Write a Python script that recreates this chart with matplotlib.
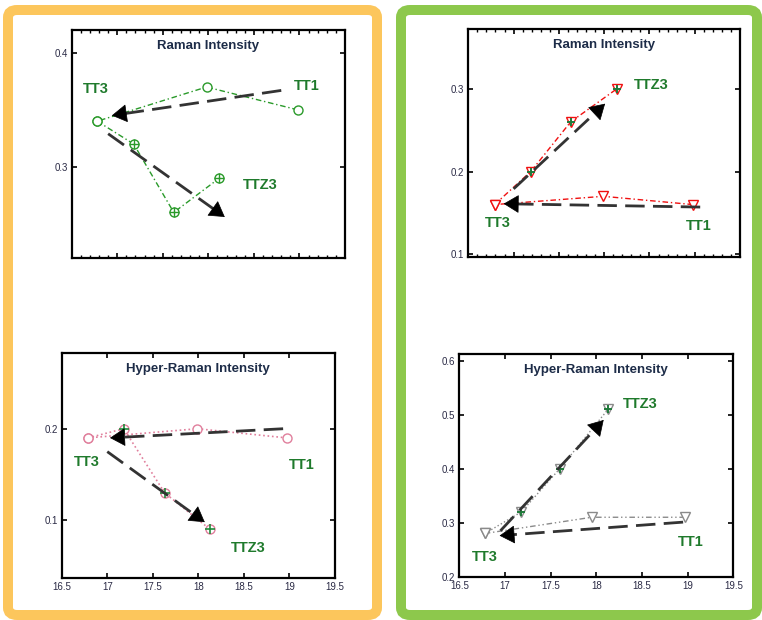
import matplotlib
matplotlib.use("Agg")
import matplotlib.pyplot as plt
from matplotlib.patches import FancyBboxPatch
from matplotlib.ticker import MultipleLocator

plt.rcParams['font.family'] = ['Liberation Sans', 'DejaVu Sans']

# ---- data: each panel has a TT1 -> TT3 branch and a TT3 -> TTZ3 branch ----
# Left column, Raman intensity
ram_l_ax = [18.98, 17.98, 16.78]
ram_l_ay = [0.35, 0.37, 0.34]
ram_l_bx = [16.78, 17.18, 17.62, 18.12]
ram_l_by = [0.34, 0.32, 0.26, 0.29]

# Left column, hyper-Raman intensity
hyp_l_ax = [18.97, 17.99, 16.79]
hyp_l_ay = [0.19, 0.20, 0.19]
hyp_l_bx = [16.79, 17.18, 17.63, 18.13]
hyp_l_by = [0.19, 0.20, 0.13, 0.09]

# Right column, Raman intensity
ram_r_ax = [18.98, 17.99, 16.79]
ram_r_ay = [0.16, 0.17, 0.16]
ram_r_bx = [16.79, 17.19, 17.63, 18.14]
ram_r_by = [0.16, 0.20, 0.26, 0.30]

# Right column, hyper-Raman intensity
hyp_r_ax = [18.97, 17.95, 16.78]
hyp_r_ay = [0.31, 0.31, 0.28]
hyp_r_bx = [16.78, 17.18, 17.60, 18.13]
hyp_r_by = [0.28, 0.32, 0.40, 0.51]

# trend arrows: (x_start, y_start, x_tip, y_tip)
ram_l_arrows = [(18.80, 0.367, 16.94, 0.345), (16.90, 0.329, 18.18, 0.256)]
hyp_l_arrows = [(18.93, 0.200, 17.03, 0.190), (17.00, 0.175, 18.07, 0.098)]
ram_r_arrows = [(19.06, 0.157, 16.89, 0.161), (17.00, 0.179, 18.01, 0.282)]
hyp_r_arrows = [(18.95, 0.301, 16.94, 0.276), (16.95, 0.285, 18.08, 0.490)]

# point labels: (text, x, y)
ram_l_labels = [("TT3", 16.77, 0.368), ("TT1", 19.08, 0.371), ("TTZ3", 18.57, 0.284)]
hyp_l_labels = [("TT3", 16.77, 0.164), ("TT1", 19.13, 0.160), ("TTZ3", 18.55, 0.070)]
ram_r_labels = [("TTZ3", 18.52, 0.304), ("TT3", 16.83, 0.138), ("TT1", 19.04, 0.134)]
hyp_r_labels = [("TTZ3", 18.48, 0.520), ("TT3", 16.78, 0.237), ("TT1", 19.03, 0.264)]

x_range = (16.5, 19.5)
x_ticks = [16.5, 17, 17.5, 18, 18.5, 19, 19.5]
x_ticklabels = ["16.5", "17", "17.5", "18", "18.5", "19", "19.5"]

LABEL_GREEN = "#1f7a2c"
TITLE_COLOR = "#1d2c48"
TICK_COLOR = "#2a2a45"

fig = plt.figure(figsize=(7.62, 6.20), dpi=100)
fig.patch.set_facecolor("white")

# coloured rounded frames around the two columns
frame_l = FancyBboxPatch((8 / 762, 1 - 615 / 620), 369 / 762, 605 / 620,
                         boxstyle="round,pad=0,rounding_size=0.012",
                         transform=fig.transFigure, fill=False,
                         edgecolor="#fcc65c", linewidth=7.2, zorder=0)
frame_r = FancyBboxPatch((401 / 762, 1 - 615 / 620), 356 / 762, 605 / 620,
                         boxstyle="round,pad=0,rounding_size=0.012",
                         transform=fig.transFigure, fill=False,
                         edgecolor="#8dc84c", linewidth=7.2, zorder=0)
fig.patches.extend([frame_l, frame_r])


def style_axes(ax, ylim, yticks, show_x, minor_x):
    ax.set_xlim(*x_range)
    ax.set_ylim(*ylim)
    ax.set_yticks(yticks)
    ax.set_yticklabels([f"{v:g}" for v in yticks])
    ax.set_xticks(x_ticks)
    if show_x:
        ax.set_xticklabels(x_ticklabels)
    else:
        ax.set_xticklabels([])
    if minor_x:
        ax.xaxis.set_minor_locator(MultipleLocator(0.1))
        ax.tick_params(axis="x", which="minor", direction="in", length=2.5,
                       width=1.0, top=True, bottom=True)
    ax.tick_params(which="major", direction="in", length=3.5, width=1.2,
                   top=True, right=True, labelsize=7, labelcolor=TICK_COLOR,
                   pad=3)
    for sp in ax.spines.values():
        sp.set_linewidth(1.6)


def draw_arrows(ax, arrows):
    for x0, y0, x1, y1 in arrows:
        # stop the shaft a little before the tip so the head sits cleanly
        fx = x1 - 0.06 * (x1 - x0)
        fy = y1 - 0.06 * (y1 - y0)
        ax.plot([x0, fx], [y0, fy], color="#333333", lw=2.0,
                dashes=(7, 3), zorder=4, solid_capstyle="butt")
        ax.annotate("", xy=(x1, y1), xytext=(x1 - 0.02 * (x1 - x0), y1 - 0.02 * (y1 - y0)),
                    arrowprops=dict(arrowstyle="-|>,head_length=0.5,head_width=0.3",
                                    color="black", lw=0.5,
                                    mutation_scale=20, shrinkA=0, shrinkB=0),
                    zorder=5)


def draw_labels(ax, labels):
    for txt, x, y in labels:
        ax.text(x, y, txt, color=LABEL_GREEN, fontsize=10.5, fontweight="bold",
                ha="center", va="center", zorder=6)


def title(ax, txt):
    ax.text(0.5, 0.955, txt, transform=ax.transAxes, ha="center", va="top",
            fontsize=9.5, fontweight="bold", color=TITLE_COLOR, zorder=6)


# ---- top left: Raman, green circles ----
ax1 = fig.add_axes([0.0941, 0.5839, 0.3587, 0.3677])
g = "#2a9a2a"
ax1.plot(ram_l_ax, ram_l_ay, color=g, lw=1.0, dashes=(4, 2, 1, 2),
         marker="o", ms=6.5, mfc="white", mec=g, mew=1.0, zorder=3)
ax1.plot(ram_l_bx, ram_l_by, color=g, lw=1.0, dashes=(4, 2, 1, 2),
         marker="o", ms=6.5, mfc="white", mec=g, mew=1.0, zorder=3)
ax1.plot(ram_l_bx[1:], ram_l_by[1:], ls="none", marker="+", ms=6.5, mec=g,
         mew=1.0, zorder=3)
draw_arrows(ax1, ram_l_arrows)
draw_labels(ax1, ram_l_labels)
title(ax1, "Raman Intensity")
style_axes(ax1, (0.22, 0.42), [0.3, 0.4], show_x=False, minor_x=True)

# ---- bottom left: hyper-Raman, pink circles ----
ax2 = fig.add_axes([0.0810, 0.0677, 0.3587, 0.3634])
p = "#e07f9c"
ax2.plot(hyp_l_ax, hyp_l_ay, color=p, lw=1.2, ls=":",
         marker="o", ms=6.5, mfc="white", mec=p, mew=1.0, zorder=3)
ax2.plot(hyp_l_bx, hyp_l_by, color=p, lw=1.2, ls=":",
         marker="o", ms=6.5, mfc="white", mec=p, mew=1.0, zorder=3)
ax2.plot(hyp_l_bx[1:], hyp_l_by[1:], ls="none", marker="+", ms=6.5,
         mec="#1f8a3a", mew=1.2, zorder=3)
draw_arrows(ax2, hyp_l_arrows)
draw_labels(ax2, hyp_l_labels)
title(ax2, "Hyper-Raman Intensity")
style_axes(ax2, (0.037, 0.283), [0.1, 0.2], show_x=True, minor_x=False)

# ---- top right: Raman, red triangles ----
ax3 = fig.add_axes([0.6146, 0.5860, 0.3566, 0.3668])
r = "#f01010"
ax3.plot(ram_r_ax, ram_r_ay, color=r, lw=1.0, dashes=(4, 2, 1, 2),
         marker="v", ms=7.5, mfc="white", mec=r, mew=1.0, zorder=3)
ax3.plot(ram_r_bx, ram_r_by, color=r, lw=1.0, dashes=(4, 2, 1, 2),
         marker="v", ms=7.5, mfc="white", mec=r, mew=1.0, zorder=3)
ax3.plot(ram_r_bx[1:], ram_r_by[1:], ls="none", marker="+", ms=6,
         mec="#1f7a3a", mew=1.4, zorder=3)
draw_arrows(ax3, ram_r_arrows)
draw_labels(ax3, ram_r_labels)
title(ax3, "Raman Intensity")
style_axes(ax3, (0.097, 0.372), [0.1, 0.2, 0.3], show_x=False, minor_x=True)

# ---- bottom right: hyper-Raman, grey triangles ----
ax4 = fig.add_axes([0.6028, 0.0698, 0.3596, 0.3592])
k = "#8a8a8a"
ax4.plot(hyp_r_ax, hyp_r_ay, color=k, lw=1.0, dashes=(4, 2, 1, 2, 1, 2),
         marker="v", ms=7.5, mfc="white", mec=k, mew=1.0, zorder=3)
ax4.plot(hyp_r_bx, hyp_r_by, color=k, lw=1.0, ls=":",
         marker="v", ms=7.5, mfc="white", mec=k, mew=1.0, zorder=3)
ax4.plot(hyp_r_bx[1:], hyp_r_by[1:], ls="none", marker="+", ms=6,
         mec="#1f7a3a", mew=1.4, zorder=3)
draw_arrows(ax4, hyp_r_arrows)
draw_labels(ax4, hyp_r_labels)
title(ax4, "Hyper-Raman Intensity")
style_axes(ax4, (0.2, 0.612), [0.2, 0.3, 0.4, 0.5, 0.6], show_x=True, minor_x=False)

fig.savefig("out.png", dpi=100, facecolor="white")
